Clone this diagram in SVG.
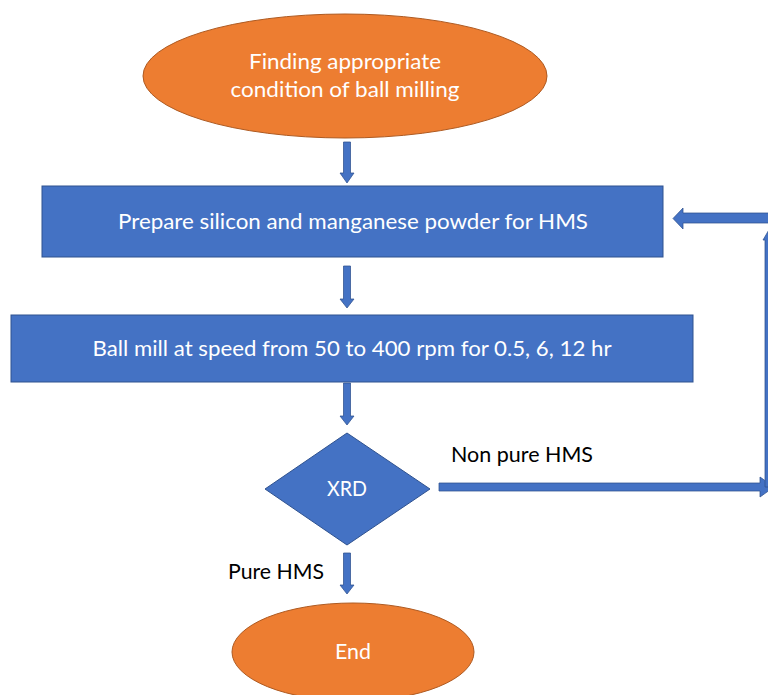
<svg xmlns="http://www.w3.org/2000/svg" width="768" height="695" viewBox="0 0 768 695">
<style>
.term{fill:#ED7D31;stroke:#AE5A21;stroke-width:1}
.proc{fill:#4472C4;stroke:#2F528F;stroke-width:1}
.arr{fill:#4472C4;stroke:#2F528F;stroke-width:0.75}
.wt{fill:#ffffff;font-family:Lato,"Liberation Sans",Arial,sans-serif;font-size:22px;text-anchor:middle}
.bt{fill:#000000;font-family:Lato,"Liberation Sans",Arial,sans-serif;font-size:22px}
</style>
<rect width="768" height="695" fill="#ffffff"/>
<g id="start">
<ellipse class="term" cx="345" cy="76" rx="202" ry="62"/>
<text class="wt" x="345" y="69" textLength="192" lengthAdjust="spacingAndGlyphs">Finding appropriate</text>
<text class="wt" x="345" y="97" textLength="229" lengthAdjust="spacingAndGlyphs">condition of ball milling</text>
</g>
<g id="prepare">
<rect class="proc" x="42" y="186" width="621" height="71"/>
<text class="wt" x="353" y="229" textLength="470" lengthAdjust="spacingAndGlyphs">Prepare silicon and manganese powder for HMS</text>
</g>
<g id="ballmill">
<rect class="proc" x="11" y="315" width="682" height="67"/>
<text class="wt" x="352" y="356" textLength="519" lengthAdjust="spacingAndGlyphs">Ball mill at speed from 50 to 400 rpm for 0.5, 6, 12 hr</text>
</g>
<g id="xrd">
<polygon class="proc" points="347,433 430,489 347,545 265,489"/>
<text class="wt" x="347" y="496" textLength="40" lengthAdjust="spacingAndGlyphs">XRD</text>
</g>
<g id="end">
<ellipse class="term" cx="353" cy="652" rx="121" ry="49"/>
<text class="wt" x="353" y="659" textLength="36" lengthAdjust="spacingAndGlyphs">End</text>
</g>
<g id="connectors">
<polygon class="arr" points="343.5,142 350.5,142 350.5,173 354,173 347,183 340,173 343.5,173"/>
<polygon class="arr" points="343.5,266 350.5,266 350.5,299 354,299 347,308 340,299 343.5,299"/>
<polygon class="arr" points="343.5,383 350.5,383 350.5,416 354,416 347,425 340,416 343.5,416"/>
<polygon class="arr" points="343.5,553 350.5,553 350.5,585 354,585 347,594 340,585 343.5,585"/>
<polygon class="arr" points="439,483 760,483 760,477 774,487 760,497 760,491 439,491"/>
<polygon class="arr" points="765,487 765,240 763,240 770,228 777,240 775,240 775,487"/>
<polygon class="arr" points="780,213 683,213 683,208 673,218.5 683,229 683,223 780,223"/>
<text class="bt" x="451" y="462" textLength="142" lengthAdjust="spacingAndGlyphs">Non pure HMS</text>
<text class="bt" x="228" y="579" textLength="96" lengthAdjust="spacingAndGlyphs">Pure HMS</text>
</g>
</svg>
